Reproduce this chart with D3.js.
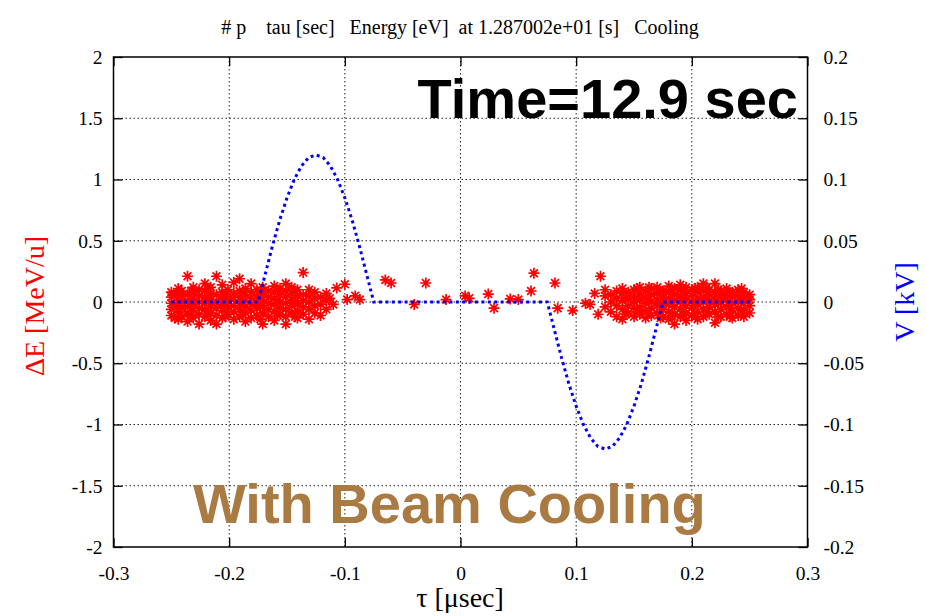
<!DOCTYPE html>
<html>
<head>
<meta charset="utf-8">
<script src="https://cdn.jsdelivr.net/npm/d3@7"></script>
<style>
  body { margin: 0; background: #fff; }
  svg { display: block; }
</style>
</head>
<body>
<div id="vis"></div>
<script>
//frame
const FRAME_WIDTH = 926;
const FRAME_HEIGHT = 616;
const PLOT = {left: 113.5, right: 807.5, top: 57, bottom: 547};

//tick values
const X_TICKS = [-0.3, -0.2, -0.1, 0, 0.1, 0.2, 0.3];
const Y_TICKS = [-2, -1.5, -1, -0.5, 0, 0.5, 1, 1.5, 2];
const Y2_TICKS = [-0.2, -0.15, -0.1, -0.05, 0, 0.05, 0.1, 0.15, 0.2];

//particles, left bunch: [tau, [dE ...]]  (tau in usec, dE in MeV/u)
const BUNCH_LEFT = [
  [-0.250, [-0.11, -0.06, -0.01, 0.04, 0.08]],
  [-0.247, [-0.13, -0.03, 0.06]],
  [-0.244, [-0.14, -0.08, -0.03, 0.02, 0.07, 0.11]],
  [-0.241, [-0.12, -0.05, 0.00, 0.05, 0.09]],
  [-0.236, [-0.16, -0.09, -0.04, 0.01, 0.06, 0.21]],
  [-0.233, [-0.11, -0.01, 0.09]],
  [-0.231, [-0.13, -0.07, -0.02, 0.03, 0.08, 0.12]],
  [-0.226, [-0.18, -0.10, -0.05, 0.00, 0.05, 0.10]],
  [-0.221, [-0.12, -0.06, -0.01, 0.04, 0.09, 0.15]],
  [-0.218, [-0.09, 0.02, 0.11]],
  [-0.216, [-0.15, -0.09, -0.03, 0.02, 0.07, 0.12]],
  [-0.211, [-0.18, -0.11, -0.05, 0.00, 0.06, 0.21]],
  [-0.206, [-0.13, -0.07, -0.02, 0.03, 0.08, 0.14]],
  [-0.203, [-0.12, -0.04, 0.06]],
  [-0.201, [-0.10, -0.04, 0.01, 0.05, 0.10]],
  [-0.196, [-0.14, -0.08, -0.03, 0.02, 0.07, 0.16]],
  [-0.191, [-0.12, -0.06, -0.01, 0.04, 0.09, 0.19]],
  [-0.188, [-0.10, 0.00, 0.08]],
  [-0.186, [-0.16, -0.09, -0.04, 0.01, 0.06, 0.11]],
  [-0.181, [-0.13, -0.07, -0.02, 0.03, 0.08, 0.15]],
  [-0.176, [-0.11, -0.05, 0.00, 0.05, 0.10]],
  [-0.173, [-0.14, -0.03, 0.08]],
  [-0.171, [-0.18, -0.09, -0.03, 0.02, 0.07, 0.12]],
  [-0.166, [-0.12, -0.06, -0.01, 0.04, 0.09]],
  [-0.161, [-0.15, -0.08, -0.02, 0.03, 0.08, 0.13]],
  [-0.158, [-0.11, 0.01, 0.10]],
  [-0.156, [-0.10, -0.05, 0.00, 0.06, 0.11]],
  [-0.151, [-0.18, -0.12, -0.06, -0.01, 0.04, 0.09, 0.15]],
  [-0.146, [-0.09, -0.03, 0.02, 0.07, 0.12]],
  [-0.143, [-0.12, 0.00, 0.09]],
  [-0.141, [-0.13, -0.07, -0.01, 0.05, 0.10]],
  [-0.136, [-0.10, -0.04, 0.01, 0.06, 0.24]],
  [-0.131, [-0.14, -0.06, 0.00, 0.05, 0.10]],
  [-0.126, [-0.09, -0.03, 0.03, 0.08]],
  [-0.121, [-0.11, -0.02, 0.04]],
  [-0.116, [-0.06, 0.01, 0.07]]
];

//particles between the bunches
const STRAY = [
  [-0.113, [0.03]], [-0.110, [-0.02]], [-0.107, [0.115]], [-0.100, [0.145]],
  [-0.098, [0.02]], [-0.091, [0.05]], [-0.087, [0.02]],
  [-0.065, [0.18]], [-0.060, [0.155]], [-0.040, [-0.02]], [-0.030, [0.155]],
  [-0.0125, [0.02]], [0.004, [0.05]], [0.0075, [0.03]], [0.024, [0.065]],
  [0.029, [-0.05]], [0.043, [0.025]], [0.050, [0.02]], [0.061, [0.09]],
  [0.0635, [0.235]], [0.0817, [0.155]], [0.084, [-0.05]], [0.097, [-0.07]],
  [0.108, [-0.01]], [0.112, [-0.02]], [0.116, [0.07]], [0.119, [-0.10]],
  [0.121, [0.21]]
];

//particles, right bunch
const BUNCH_RIGHT = [
  [0.125, [-0.04, 0.05, 0.10]],
  [0.130, [-0.08, 0.00, 0.06]],
  [0.135, [-0.12, -0.03, 0.03, 0.09]],
  [0.140, [-0.14, -0.06, 0.01, 0.07, 0.11]],
  [0.143, [-0.10, 0.04]],
  [0.145, [-0.09, -0.03, 0.03, 0.08]],
  [0.150, [-0.12, -0.05, 0.00, 0.05, 0.10]],
  [0.153, [-0.08, 0.03, 0.11]],
  [0.155, [-0.10, -0.04, 0.02, 0.07, 0.12]],
  [0.160, [-0.13, -0.07, -0.01, 0.04, 0.09]],
  [0.163, [-0.09, 0.02, 0.12]],
  [0.165, [-0.11, -0.05, 0.00, 0.06, 0.11]],
  [0.170, [-0.09, -0.03, 0.02, 0.07, 0.12]],
  [0.173, [-0.13, -0.01, 0.09]],
  [0.175, [-0.12, -0.06, -0.01, 0.04, 0.09]],
  [0.180, [-0.14, -0.08, -0.02, 0.03, 0.08, 0.13]],
  [0.183, [-0.11, 0.00, 0.10]],
  [0.185, [-0.18, -0.10, -0.04, 0.01, 0.06, 0.11]],
  [0.190, [-0.12, -0.06, 0.00, 0.05, 0.10, 0.14]],
  [0.193, [-0.10, 0.03, 0.09]],
  [0.195, [-0.15, -0.09, -0.03, 0.02, 0.07, 0.12]],
  [0.200, [-0.11, -0.05, 0.00, 0.05, 0.10]],
  [0.203, [-0.12, -0.01, 0.11]],
  [0.205, [-0.14, -0.08, -0.02, 0.03, 0.08, 0.12]],
  [0.210, [-0.12, -0.06, 0.00, 0.04, 0.09, 0.15]],
  [0.213, [-0.09, 0.02, 0.12]],
  [0.215, [-0.10, -0.04, 0.01, 0.06, 0.10]],
  [0.220, [-0.17, -0.08, -0.02, 0.03, 0.08, 0.15]],
  [0.223, [-0.12, 0.00, 0.10]],
  [0.225, [-0.12, -0.06, 0.00, 0.05, 0.09]],
  [0.230, [-0.10, -0.04, 0.02, 0.06, 0.11]],
  [0.233, [-0.12, -0.02, 0.08]],
  [0.235, [-0.13, -0.07, -0.01, 0.04, 0.08]],
  [0.240, [-0.11, -0.05, 0.00, 0.05, 0.10]],
  [0.243, [-0.09, 0.02, 0.11]],
  [0.245, [-0.12, -0.06, -0.01, 0.04, 0.08]],
  [0.250, [-0.09, -0.03, 0.02, 0.06]]
];

//rf voltage: tau (usec) and V (kV)
const VOLT_TAU = [-0.25, -0.175, -0.16875, -0.1625, -0.15625, -0.15, -0.14375, -0.1375, -0.13125,
  -0.125, -0.11875, -0.1125, -0.10625, -0.1, -0.09375, -0.0875, -0.08125, -0.075,
  0.075, 0.08125, 0.0875, 0.09375, 0.1, 0.10625, 0.1125, 0.11875,
  0.125, 0.13125, 0.1375, 0.14375, 0.15, 0.15625, 0.1625, 0.16875, 0.175, 0.25];
const VOLT_KV = [0, 0, 0.023, 0.046, 0.067, 0.085, 0.100, 0.111, 0.118,
  0.120, 0.118, 0.111, 0.100, 0.085, 0.067, 0.046, 0.023, 0,
  0, -0.023, -0.046, -0.067, -0.085, -0.100, -0.111, -0.118,
  -0.120, -0.118, -0.111, -0.100, -0.085, -0.067, -0.046, -0.023, 0, 0];

const SERIF = "'Liberation Serif', 'Times New Roman', serif";
const SANS = "'Liberation Sans', Arial, sans-serif";

function build_chart(){
  const FRAME = d3.select("#vis")
    .append("svg")
    .attr("width", FRAME_WIDTH)
    .attr("height", FRAME_HEIGHT);

  const X_SCALE = d3.scaleLinear().domain([-0.3, 0.3]).range([PLOT.left, PLOT.right]);
  const Y_SCALE = d3.scaleLinear().domain([-2, 2]).range([PLOT.bottom, PLOT.top]);
  const Y2_SCALE = d3.scaleLinear().domain([-0.2, 0.2]).range([PLOT.bottom, PLOT.top]);
  const W = PLOT.right - PLOT.left;
  const H = PLOT.bottom - PLOT.top;

  //grid
  const grid = FRAME.append("g").attr("class", "grid");
  grid.selectAll(".gx")
    .data(X_TICKS.slice(1, -1))
    .enter().append("line")
    .attr("x1", d => X_SCALE(d)).attr("x2", d => X_SCALE(d))
    .attr("y1", PLOT.top).attr("y2", PLOT.bottom);
  grid.selectAll(".gy")
    .data(Y_TICKS.slice(1, -1))
    .enter().append("line")
    .attr("x1", PLOT.left).attr("x2", PLOT.right)
    .attr("y1", d => Y_SCALE(d)).attr("y2", d => Y_SCALE(d));
  grid.selectAll("line")
    .attr("stroke", "#222")
    .attr("stroke-width", 1)
    .attr("stroke-dasharray", "1.5,2.5");

  //axes with inward ticks
  const fmt = d => String(d);
  const axes = [
    FRAME.append("g").attr("transform", "translate(0," + PLOT.bottom + ")")
      .call(d3.axisBottom(X_SCALE).tickValues(X_TICKS).tickFormat(fmt).tickSizeInner(-9).tickSizeOuter(0).tickPadding(19)),
    FRAME.append("g").attr("transform", "translate(0," + PLOT.top + ")")
      .call(d3.axisTop(X_SCALE).tickValues(X_TICKS).tickFormat("").tickSizeInner(-9).tickSizeOuter(0)),
    FRAME.append("g").attr("transform", "translate(" + PLOT.left + ",0)")
      .call(d3.axisLeft(Y_SCALE).tickValues(Y_TICKS).tickFormat(fmt).tickSizeInner(-9).tickSizeOuter(0).tickPadding(11)),
    FRAME.append("g").attr("transform", "translate(" + PLOT.right + ",0)")
      .call(d3.axisRight(Y2_SCALE).tickValues(Y2_TICKS).tickFormat(fmt).tickSizeInner(-9).tickSizeOuter(0).tickPadding(16))
  ];
  axes.forEach(a => {
    a.select(".domain").remove();
    a.selectAll(".tick line").attr("stroke", "#000").attr("stroke-width", 1.3);
    a.selectAll("text")
      .attr("font-family", SERIF)
      .attr("font-size", "19.5px")
      .attr("fill", "#000");
  });

  //particles
  const points = [];
  [BUNCH_LEFT, STRAY, BUNCH_RIGHT].forEach(group => {
    group.forEach(col => col[1].forEach(e => points.push([col[0], e])));
  });
  const R = 5.5, A = 3.9;
  const STAR = "M" + (-R) + ",0H" + R + "M0," + (-R) + "V" + R +
    "M" + (-A) + "," + (-A) + "L" + A + "," + A + "M" + (-A) + "," + A + "L" + A + "," + (-A);
  FRAME.append("g").selectAll("path")
    .data(points)
    .enter().append("path")
    .attr("d", STAR)
    .attr("transform", d => "translate(" + X_SCALE(d[0]) + "," + Y_SCALE(d[1]) + ")")
    .attr("stroke", "#ff0000")
    .attr("stroke-width", 1.7)
    .attr("fill", "none");

  //voltage
  const volt = VOLT_TAU.map((t, i) => [t, VOLT_KV[i]]);
  FRAME.append("path")
    .datum(volt)
    .attr("d", d3.line().x(d => X_SCALE(d[0])).y(d => Y2_SCALE(d[1])))
    .attr("fill", "none")
    .attr("stroke", "#0000ff")
    .attr("stroke-width", 3)
    .attr("stroke-dasharray", "3,3.4");

  //frame border
  FRAME.append("rect")
    .attr("x", PLOT.left).attr("y", PLOT.top)
    .attr("width", W).attr("height", H)
    .attr("fill", "none").attr("stroke", "#000").attr("stroke-width", 1.5);

  //title
  FRAME.append("text")
    .attr("x", 460).attr("y", 34)
    .attr("text-anchor", "middle")
    .attr("font-family", SERIF).attr("font-size", "20px")
    .style("white-space", "pre")
    .text("# p    tau [sec]   Energy [eV]  at 1.287002e+01 [s]   Cooling");

  //axis labels
  FRAME.append("text")
    .attr("x", 460).attr("y", 607)
    .attr("text-anchor", "middle")
    .attr("font-family", SERIF).attr("font-size", "28px")
    .text("τ [μsec]");
  FRAME.append("text")
    .attr("transform", "translate(44,306) rotate(-90)")
    .attr("text-anchor", "middle")
    .attr("font-family", SERIF).attr("font-size", "28px")
    .attr("fill", "#ff0000")
    .text("ΔE [MeV/u]");
  FRAME.append("text")
    .attr("transform", "translate(914,302) rotate(-90)")
    .attr("text-anchor", "middle")
    .attr("font-family", SERIF).attr("font-size", "28px")
    .attr("fill", "#0000ff")
    .text("V [kV]");

  //annotations
  FRAME.append("text")
    .attr("x", 798).attr("y", 118)
    .attr("text-anchor", "end")
    .attr("font-family", SANS).attr("font-weight", "bold").attr("font-size", "56px")
    .attr("fill", "#000")
    .text("Time=12.9 sec");
  FRAME.append("text")
    .attr("x", 193).attr("y", 523)
    .attr("font-family", SANS).attr("font-weight", "bold").attr("font-size", "56px")
    .attr("fill", "#a97a42")
    .text("With Beam Cooling");
}

build_chart()
</script>
</body>
</html>
